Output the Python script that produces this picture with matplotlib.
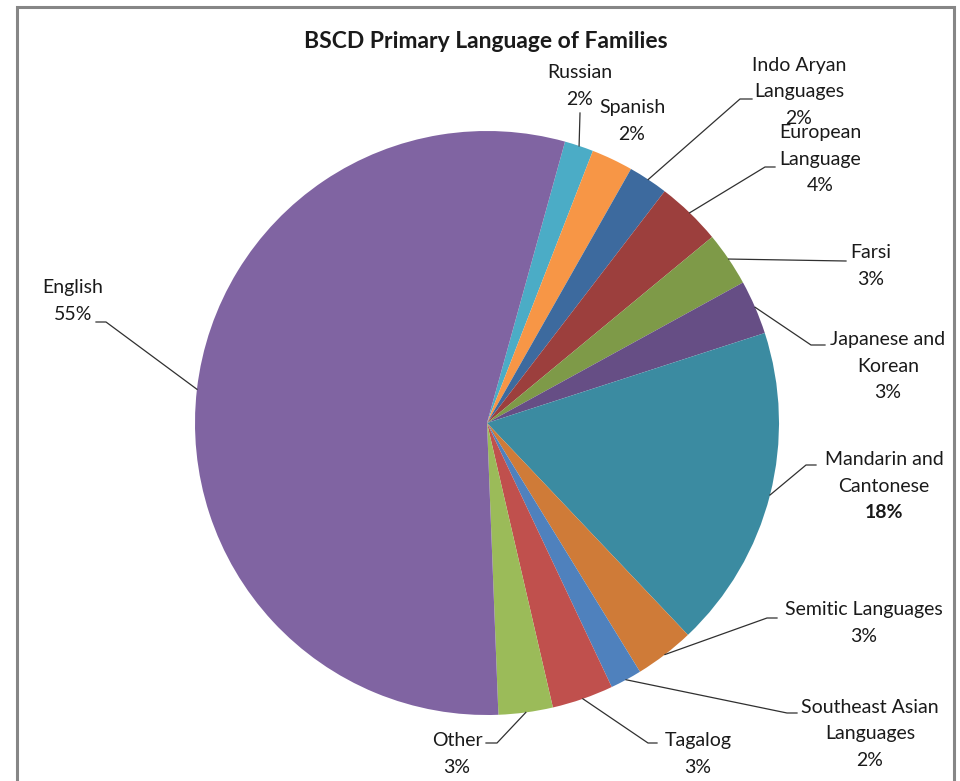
import numpy as np
import matplotlib
matplotlib.use("Agg")
from matplotlib import pyplot as plt

# data, in the order the slices run clockwise from the top
langs = ["Russian", "Spanish", "Indo Aryan\nLanguages", "European\nLanguage", "Farsi",
         "Japanese and\nKorean", "Mandarin and\nCantonese", "Semitic Languages",
         "Southeast Asian\nLanguages", "Tagalog", "Other", "English"]
share = [1.6, 2.3, 2.2, 3.6, 3.0, 3.0, 17.9, 3.3, 1.75, 3.4, 3.0, 54.9]
colors = ["#4BACC6", "#F79646", "#3D6A9E", "#9C3F3D", "#7E9A48", "#664E85",
          "#3B8BA1", "#CF7B38", "#4F81BD", "#C0504D", "#9BBB59", "#8064A2"]

W, H = 960, 781
cx, cy, R = 487, 423, 292
LH = 26.5  # label line height in px

# label block centre, elbow of the leader line, end of the leader line (image pixels)
lab_pos = [(580, 86), (632, 121), (799, 92), (820, 159), (871, 266), (888, 366),
           (884, 486), (864, 623), (870, 734), (698, 754), (457, 754), (73, 301)]
elbows = [(580, 113), None, (740, 99), (765, 167), (846, 261), (811, 345),
          (806, 465), (767, 618), (787, 713), (648, 743), (497, 743), (106, 322)]
ends = [(580, 113), None, (752, 99), (775, 167), (846, 261), (825, 345),
        (816, 465), (777, 618), (797, 713), (657, 743), (486, 743), (96, 322)]

def px(x, y):
    return x, H - y

plt.rcParams['font.family'] = ['Lato', 'DejaVu Sans']
fig = plt.figure(figsize=(W / 100, H / 100), dpi=100)
ax = fig.add_axes([0, 0, 1, 1])

# chart frame
ax.plot([17, 17, 954, 954], [0, H - 7, H - 7, 0], color="#868686", lw=2.2, solid_joinstyle='miter')

wedges, _ = ax.pie(share, colors=colors, startangle=90 - 15.5, counterclock=False,
                   center=px(cx, cy), radius=R, frame=True,
                   wedgeprops=dict(linewidth=0))
ax.set_xlim(0, W)
ax.set_ylim(0, H)
ax.axis('off')

total = sum(share)
for w, name, v, lp, el, en in zip(wedges, langs, share, lab_pos, elbows, ends):
    pct = "%d%%" % round(v / total * 100)
    lines = name.split("\n") + [pct]
    n = len(lines)
    for i, s in enumerate(lines):
        y = lp[1] + (i - (n - 1) / 2) * LH
        bold = (i == n - 1) and v > 15 and v < 50
        ax.text(*px(lp[0], y), s, ha='center', va='center', fontsize=14,
                color="#1a1a1a", fontweight='bold' if bold else 'normal')
    if el is None:
        continue
    mid = np.deg2rad((w.theta1 + w.theta2) / 2)
    ax_, ay_ = px(cx, cy)
    a = (ax_ + R * np.cos(mid), ay_ + R * np.sin(mid))
    xs = [a[0], px(*el)[0], px(*en)[0]]
    ys = [a[1], px(*el)[1], px(*en)[1]]
    ax.plot(xs, ys, color="#303030", lw=0.9)

ax.text(*px(486, 42), "BSCD Primary Language of Families", ha='center', va='center',
        fontsize=16.5, fontweight='bold', color="#1a1a1a")

fig.savefig("out.png", dpi=100)
